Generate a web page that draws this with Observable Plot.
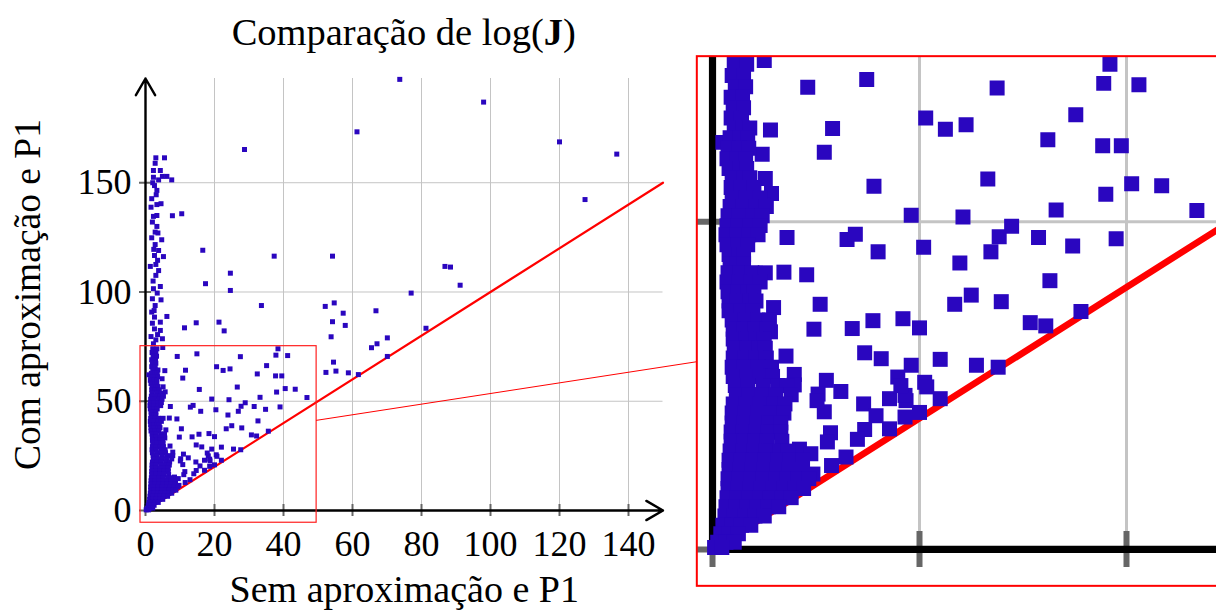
<!DOCTYPE html>
<html><head><meta charset="utf-8">
<script src="https://cdn.jsdelivr.net/npm/d3@7"></script>
<script src="https://cdn.jsdelivr.net/npm/@observablehq/plot@0.6"></script>
<style>
html,body{margin:0;padding:0;background:#fff;overflow:hidden;}
#wrap{position:relative;width:1216px;height:611px;overflow:hidden;}
#main{position:absolute;left:0;top:0;width:690px;height:611px;}
#inset{position:absolute;overflow:hidden;background:#fff;}
#overlay{position:absolute;left:0;top:0;pointer-events:none;}
svg{max-width:none !important;}
</style></head><body>
<div id="wrap"><div id="main"></div><div id="inset"></div><svg id="overlay" width="1216" height="611"></svg></div>
<script>
// ---- texts / ticks ----
const titulo = ["Comparação de log(", "J", ")"];
const rotuloX = "Sem aproximação e P1";
const rotuloY = "Com aproximação e P1";
const xTicks = [0, 20, 40, 60, 80, 100, 120, 140];
const yTicks = [0, 50, 100, 150];
const xMax = 150, yMax = 197.7;
const diagonal = [0, 150];               // reference line y = x
const spyX = [-1.45, 49.6], spyY = [-5.6, 75.2];
const zoomFactor = 3;
const insetCenter = [961, 321];

// ---- data: [sem aproximação, com aproximação] ----
const dispersos = [[73.7,197.3],[98.0,186.9],[61.3,173.3],[120.0,168.7],[136.6,163.1],[127.4,142.3],[54.2,116.4],[86.8,111.7],[88.4,111.4],[91.2,103.1],[77.0,99.5],[52.1,93.4],[54.7,95.0],[57.3,90.3],[66.8,91.4],[54.2,86.4],[57.9,84.7],[53.8,79.5],[70.1,79.0],[67.1,76.3],[65.5,74.5],[81.3,83.4],[70.1,70.5],[54.5,67.9],[52.3,63.2],[55.2,63.8],[58.8,63.0],[61.7,62.2],[28.7,165.2],[16.6,119.1],[37.3,116.4],[24.6,108.6],[17.4,103.8],[24.6,100.7],[33.6,93.8],[14.7,85.9],[21.3,86.2],[22.8,82.2]];
const coluna = [[3.0,161.4],[5.5,161.4],[2.8,158.9],[2.3,155.6],[4.3,155.6],[4.9,152.9],[6.2,152.9],[7.6,151.3],[2.3,152.5],[3.8,151.3],[2.6,148.7],[3.3,146.5],[1.8,142.7],[3.3,140.0],[4.5,140.4],[1.6,138.8],[2.3,134.6],[3.3,135.0],[7.8,134.9],[10.5,135.8],[3.3,130.0],[2.8,127.4],[1.8,124.8],[4.7,123.9],[2.8,121.7],[3.8,119.0],[2.6,116.7],[5.2,116.2],[1.4,111.7],[3.0,112.6],[3.8,109.8],[3.0,107.6],[2.3,101.5],[4.3,102.5],[2.0,96.9],[4.5,96.4],[2.8,93.8],[1.8,90.8],[6.2,88.8],[2.6,88.5],[4.3,86.2],[2.0,85.7],[2.6,83.1],[4.3,82.4],[11.3,83.6],[1.6,79.6],[3.0,78.1],[4.9,78.6],[2.3,76.3],[2.1,150.0],[3.1,144.5],[2.0,132.0],[3.6,127.0],[2.4,119.5],[3.5,114.5],[2.2,105.0],[3.4,99.5],[2.5,91.5],[3.5,80.5]];
const leque = [[9.2,70.5],[14.9,71.7],[27.5,70.4],[37.8,71.1],[41.2,70.9],[38.4,74.0],[5.0,74.6],[5.6,64.0],[11.6,64.2],[20.6,65.8],[22.5,64.1],[24.5,64.8],[35.1,66.3],[32.4,62.5],[37.7,61.6],[39.5,61.6],[1.0,62.1],[10.8,60.6],[4.8,60.3],[15.6,55.4],[26.6,56.5],[40.5,55.8],[43.4,55.5],[38.0,54.2],[33.2,51.8],[46.8,51.7],[19.2,51.0],[24.2,50.7],[28.9,49.3],[27.7,47.7],[26.9,45.4],[31.5,47.6],[34.8,46.3],[39.0,47.4],[7.2,47.6],[13.0,47.3],[13.8,48.1],[16.0,45.4],[20.4,46.1],[23.9,43.7],[6.9,42.3],[9.1,41.9],[32.6,41.0],[25.0,38.8],[23.4,37.4],[27.9,37.8],[35.6,36.3],[10.4,37.4],[5.9,36.9],[15.5,34.9],[18.4,35.2],[20.0,33.8],[30.7,34.6],[32.2,34.1],[9.8,33.6],[13.5,33.7],[14.7,30.0],[16.3,29.1],[22.0,29.0],[25.5,28.1],[27.6,27.8],[7.1,29.5],[7.9,26.7],[11.0,25.8],[12.4,24.1],[10.2,23.7],[10.8,21.0],[19.2,28.1],[17.9,26.3],[20.5,25.5],[22.0,23.0],[17.1,23.0],[14.6,22.2],[18.7,22.7],[15.8,20.4],[18.6,20.2],[20.0,20.9],[17.1,18.4],[14.7,18.3],[14.0,16.8],[11.4,17.8],[11.1,16.4],[12.9,14.1],[11.5,12.8],[8.4,15.3],[9.5,14.6],[9.7,11.5],[20.7,24.8],[18.6,23.5],[18.2,25.0],[10.1,22.7],[7.9,25.1],[5.1,56.6],[5.7,54.3],[4.9,52.6],[5.6,33.2]];
// dense core: [com aproximação, [sem aproximação ...]]
const nucleo = [
[74.0,[2.1,3.3]],[72.3,[1.9,3.0]],[70.6,[2.2,3.2]],[69.0,[1.8,2.9]],[67.4,[2.0,3.0]],[65.8,[1.8,2.8]],
[64.3,[2.1,2.9,3.6]],[62.8,[1.7,2.7,3.4]],[61.2,[1.5,2.6,3.5]],[59.6,[1.4,2.4,3.2]],[58.1,[1.6,2.7,3.3]],
[56.7,[1.9,3.0,3.6]],[55.2,[1.8,2.8,4.0]],[53.6,[1.9,3.2,4.6]],[52.3,[1.7,2.9,4.2,5.2]],[50.9,[1.5,2.6,3.9,4.8]],
[49.4,[1.4,2.5,3.6,4.6]],[48.0,[1.3,2.4,3.5,4.4]],[46.5,[1.4,2.5,3.4]],[45.0,[1.6,2.6,3.0]],[43.6,[1.7,2.4,3.0]],
[42.2,[1.5,2.7,3.8,5.1]],[40.8,[1.4,2.6,3.7,4.6]],[39.3,[1.5,2.5,3.4,4.0]],[37.9,[1.6,2.4,3.6,4.2]],[36.4,[1.6,2.8,3.9]],
[35.0,[1.9,3.1,4.4,5.5]],[33.6,[2.0,3.0,4.1,5.3]],[32.1,[2.0,3.2,4.2,5.0]],[30.7,[2.1,3.3,4.5,5.1]],[29.2,[2.0,3.1,4.2,5.2]],
[27.8,[1.9,3.0,4.4,5.7]],[26.4,[2.0,3.3,4.6,5.8]],[25.0,[2.2,3.4,4.9,6.3,7.2]],[23.6,[2.3,3.5,4.8,6.1,7.6]],
[22.2,[2.0,3.2,4.6,5.9,7.0]],[20.8,[1.9,3.1,4.4,5.7,6.9]],[19.3,[1.9,3.0,4.3,5.5,6.6]],[17.9,[1.8,2.9,4.2,5.4,6.6]],
[16.5,[1.8,3.0,4.1,5.3,6.7]],[15.0,[1.7,2.9,4.0,5.2,6.5,7.3]],[13.6,[1.6,2.8,3.9,5.1,6.3,7.5,8.7]],
[12.2,[1.6,2.7,3.8,5.0,6.2,7.4,8.6]],[10.8,[1.5,2.6,3.7,4.9,6.1,7.2,8.3,9.3]],[9.3,[1.5,2.5,3.6,4.7,5.8,6.9,8.0,8.8]],
[7.9,[1.4,2.4,3.5,4.6,5.6,6.7,7.6]],[6.5,[1.3,2.3,3.3,4.3,5.4,6.4]],[5.1,[1.2,2.1,3.1,4.1,5.0]],
[3.7,[1.0,1.9,2.8,3.7]],[2.4,[0.8,1.6,2.5]],[1.1,[0.5,1.3,2.1]],[0.3,[0.2,0.9]]];

const pontos = [...dispersos, ...coluna, ...leque, ...nucleo.flatMap(([y, xs]) => xs.map(x => [x, y]))];

// ---- style ----
const FONT = '"Liberation Serif","Times New Roman",Times,serif';
const COR = "#2a06bf", GRID = "#c4c4c4", TICK = "#666666";
const W = 690, H = 611, mL = 145, mR = 27.5, mT = 78, mB = 101;
const pxX = (W - mL - mR) / xMax, pxY = (H - mT - mB) / yMax;
const tickPx = 6;

function camadas(k, clip) {
  const tX = tickPx / pxX, tY = tickPx / pxY;
  return [
    Plot.ruleX(xTicks.filter(v => v > 0), {x: d => d, y1: 0, y2: yMax, stroke: GRID, strokeWidth: 1 * k, clip}),
    Plot.ruleY(yTicks.filter(v => v > 0), {y: d => d, x1: 0, x2: xMax, stroke: GRID, strokeWidth: 1 * k, clip}),
    Plot.ruleX(xTicks, {x: d => d, y1: -tY, y2: tY, stroke: TICK, strokeWidth: 2 * k, clip}),
    Plot.ruleY(yTicks, {y: d => d, x1: -tX, x2: tX, stroke: TICK, strokeWidth: 2 * k, clip}),
    Plot.arrow([0], {x1: 0, y1: 0, x2: xMax, y2: 0, stroke: "black", strokeWidth: 2.4 * k, headLength: 12 * k, clip}),
    Plot.arrow([0], {x1: 0, y1: 0, x2: 0, y2: yMax, stroke: "black", strokeWidth: 2.4 * k, headLength: 12 * k, clip}),
    Plot.line(diagonal, {x: d => d, y: d => d, stroke: "#ff0000", strokeWidth: 2.2 * k, clip}),
    Plot.dot(pontos, {x: d => d[0], y: d => d[1], symbol: "square", r: 2.82 * k, fill: COR, clip})
  ];
}

const mainPlot = Plot.plot({
  width: W, height: H, marginLeft: mL, marginRight: mR, marginTop: mT, marginBottom: mB,
  x: {domain: [0, xMax], axis: null}, y: {domain: [0, yMax], axis: null},
  style: {fontFamily: FONT, color: "black", background: "transparent", overflow: "visible"},
  marks: [
    ...camadas(1, false),
    Plot.text(xTicks, {x: d => d, text: d => String(d), frameAnchor: "bottom", lineAnchor: "middle", dy: 34, fontSize: 36, fill: "black"}),
    Plot.text(yTicks, {y: d => d, text: d => String(d), frameAnchor: "left", lineAnchor: "middle", dx: -14, textAnchor: "end", fontSize: 36, fill: "black"}),
    Plot.text([rotuloX], {text: d => d, frameAnchor: "bottom", lineAnchor: "middle", textAnchor: "middle", dy: 79, fontSize: 38, fill: "black"}),
    Plot.text([rotuloY], {text: d => d, frameAnchor: "left", lineAnchor: "middle", textAnchor: "middle", dx: -118, rotate: -90, fontSize: 37.5, fill: "black"})
  ]
});
document.getElementById("main").appendChild(mainPlot);

const k = zoomFactor;
const iw = (spyX[1] - spyX[0]) * pxX * k, ih = (spyY[1] - spyY[0]) * pxY * k;
const insetPlot = Plot.plot({
  width: iw, height: ih, margin: 0,
  x: {domain: spyX, axis: null}, y: {domain: spyY, axis: null},
  style: {background: "white", overflow: "hidden"},
  marks: camadas(k, true)
});
const insetDiv = document.getElementById("inset");
const bx = insetCenter[0] - iw / 2, by = insetCenter[1] - ih / 2;
Object.assign(insetDiv.style, {left: bx + "px", top: by + "px", width: iw + "px", height: ih + "px"});
insetDiv.appendChild(insetPlot);

// ---- overlay: spy rectangle, connection, frame, title ----
const sx = mainPlot.scale("x"), sy = mainPlot.scale("y");
const rx0 = sx.apply(spyX[0]), rx1 = sx.apply(spyX[1]);
const ry0 = sy.apply(spyY[1]), ry1 = sy.apply(spyY[0]);
const ov = d3.select("#overlay");
ov.append("rect").attr("x", rx0).attr("y", ry0).attr("width", rx1 - rx0).attr("height", ry1 - ry0)
  .attr("fill", "none").attr("stroke", "#ff2020").attr("stroke-width", 1.2);
const rc = [(rx0 + rx1) / 2, (ry0 + ry1) / 2], bc = insetCenter;
const dxl = bc[0] - rc[0], dyl = bc[1] - rc[1];
const t1 = Math.min((rx1 - rx0) / 2 / Math.abs(dxl), (ry1 - ry0) / 2 / Math.abs(dyl));
const t2 = Math.min(iw / 2 / Math.abs(dxl), ih / 2 / Math.abs(dyl));
ov.append("line").attr("x1", rc[0] + dxl * t1).attr("y1", rc[1] + dyl * t1)
  .attr("x2", bc[0] - dxl * t2).attr("y2", bc[1] - dyl * t2).attr("stroke", "#ff0000").attr("stroke-width", 1);
ov.append("rect").attr("x", bx).attr("y", by).attr("width", iw).attr("height", ih)
  .attr("fill", "none").attr("stroke", "#ff0000").attr("stroke-width", 2);
const t = ov.append("text").attr("x", sx.apply(xMax / 2)).attr("y", 45).attr("text-anchor", "middle")
  .attr("font-family", FONT).attr("font-size", 38.5).attr("fill", "black");
t.append("tspan").text(titulo[0]);
t.append("tspan").attr("font-weight", "bold").text(titulo[1]);
t.append("tspan").text(titulo[2]);
</script>
</body></html>
